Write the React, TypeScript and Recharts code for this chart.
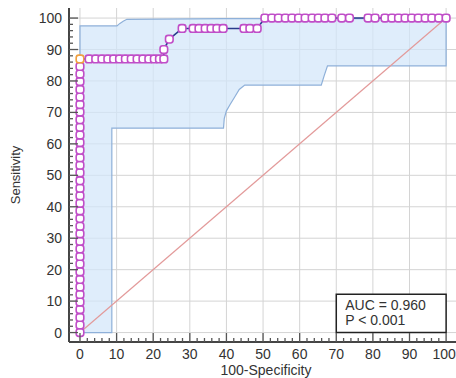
import React from 'react';
import { ComposedChart, Line, Area, XAxis, YAxis, CartesianGrid, ReferenceArea } from 'recharts';

const FONT = '"Liberation Sans", Arial, sans-serif';

const majorTicks = [0, 10, 20, 30, 40, 50, 60, 70, 80, 90, 100];
const minorTicks = Array.from({ length: 51 }, (_, i) => i * 2);

// ROC curve points (100-Specificity, Sensitivity)
const rocFpr = [
  0, 0, 0, 0, 0, 0, 0, 0, 0, 0, 0, 0, 0, 0, 0, 0, 0, 0, 0, 0, 0, 0, 0, 0, 0, 0, 0, 0, 0, 0, 0, 0, 0, 0, 0, 0, 0,
  2.5, 4.3, 6.0, 7.6, 9.2, 10.8, 12.4, 14.0, 15.6, 17.2, 18.8, 20.3, 21.7, 22.9,
  22.9, 24.4,
  27.9, 30.9, 32.5, 34.2, 35.8, 37.4, 39.1, 44.8, 46.4, 48.4,
  50.5, 52.4, 54.2, 56.1, 57.9, 59.7, 61.5, 63.4, 65.1, 66.9, 68.8, 71.5, 73.6, 78.7, 80.6,
  83.3, 85.2, 87.0, 88.8, 90.6, 92.4, 94.3, 96.1, 98.0, 100,
];
const rocSens = [
  0, 2.4, 4.8, 7.3, 9.7, 12.1, 14.5, 16.9, 19.3, 21.8, 24.2, 26.6, 29.0, 31.4, 33.8, 36.3, 38.7, 41.1, 43.5,
  45.9, 48.3, 50.8, 53.2, 55.6, 58.0, 60.4, 62.8, 65.3, 67.7, 70.1, 72.5, 74.9, 77.3, 79.8, 82.2, 84.6, 87.0,
  87.0, 87.0, 87.0, 87.0, 87.0, 87.0, 87.0, 87.0, 87.0, 87.0, 87.0, 87.0, 87.0, 87.0,
  90.0, 93.3,
  96.7, 96.7, 96.7, 96.7, 96.7, 96.7, 96.7, 96.7, 96.7, 96.7,
  100, 100, 100, 100, 100, 100, 100, 100, 100, 100, 100, 100, 100, 100, 100,
  100, 100, 100, 100, 100, 100, 100, 100, 100, 100,
];
const optimalFpr = 0;
const optimalSens = 87.0;

// 95% confidence band
const bandX = [0, 0, 8.7, 8.7, 10.1, 10.9, 11.8, 12.8, 39.2, 39.4, 40.0, 41.0, 42.3, 43.5, 45.0, 65.9, 66.7, 67.6, 100, 100];
const bandLow = [0, 0, 0, 65, 65, 65, 65, 65, 65, 68.0, 70.5, 72.5, 75.0, 77.3, 78.7, 78.7, 81.7, 84.8, 84.8, 99.8];
const bandHigh = [0, 97.5, 97.5, 97.5, 97.5, 98.3, 99.0, 99.6, 99.8, 99.8, 99.8, 99.8, 99.8, 99.8, 99.8, 99.8, 99.8, 99.8, 99.8, 99.8];

// reference diagonal
const diagX = [0, 100];
const diagY = [0, 100];

const aucText = 'AUC = 0.960';
const pText = 'P < 0.001';
const xTitle = '100-Specificity';
const yTitle = 'Sensitivity';

const rocData = rocFpr.map((x, i) => ({ x, y: rocSens[i] }));
const bandData = bandX.map((x, i) => ({ x, low: bandLow[i], high: bandHigh[i] }));
const diagData = diagX.map((x, i) => ({ x, y: diagY[i] }));

const XTick = (p: any) => {
  const { x, y, payload } = p;
  const v = payload.value;
  const major = v % 10 === 0;
  return (
    <g>
      <line x1={x} x2={x} y1={y} y2={y - (major ? 9 : 4)} stroke="#555" strokeWidth={1.3} />
      {major && (
        <text x={x} y={y + 17} dx={v === 100 ? -2 : 0} textAnchor="middle" fontSize={14} fill="#333" fontFamily={FONT}>
          {v}
        </text>
      )}
    </g>
  );
};

const YTick = (p: any) => {
  const { x, y, payload } = p;
  const v = payload.value;
  const major = v % 10 === 0;
  return (
    <g>
      <line x1={x} x2={x + (major ? 9 : 4)} y1={y} y2={y} stroke="#555" strokeWidth={1.3} />
      {major && (
        <text x={x - 7} y={y + 5} textAnchor="end" fontSize={14} fill="#333" fontFamily={FONT}>
          {v}
        </text>
      )}
    </g>
  );
};

const Marker = (p: any) => {
  const { cx, cy, payload } = p;
  if (cx == null || cy == null) return null;
  const opt = payload && payload.x === optimalFpr && payload.y === optimalSens;
  return (
    <rect
      x={cx - 3.8}
      y={cy - 3.8}
      width={7.6}
      height={7.6}
      rx={2.6}
      ry={2.6}
      fill="#ffffff"
      stroke={opt ? '#f0a040' : '#c04ec8'}
      strokeWidth={1.6}
    />
  );
};

const AucLabel = (p: any) => {
  const vb = p.viewBox || { x: 336, y: 295, width: 110, height: 38 };
  return (
    <g>
      <text x={vb.x + 9} y={vb.y + 16} fontSize={14} fill="#333" fontFamily={FONT}>
        {aucText}
      </text>
      <text x={vb.x + 9} y={vb.y + 31} fontSize={14} fill="#333" fontFamily={FONT}>
        {pText}
      </text>
    </g>
  );
};

export default function App() {
  return (
    <div style={{ position: 'absolute', left: 0, top: 0, width: 456, height: 378, overflow: 'hidden', background: '#fff' }}>
      <ComposedChart width={456} height={378} margin={{ top: 8, right: 0, bottom: 0, left: 0 }}>
        <CartesianGrid stroke="#d4d4d4" verticalValues={majorTicks} horizontalValues={majorTicks} />
        <XAxis
          type="number"
          dataKey="x"
          domain={[-3, 102.7]}
          allowDataOverflow
          ticks={minorTicks}
          interval={0}
          tickSize={0}
          tickMargin={0}
          tickLine={false}
          tick={(p: any) => <XTick {...p} />}
          axisLine={{ stroke: '#454545', strokeWidth: 2 }}
          height={36}
          label={{
            content: () => (
              <text x={266} y={374.5} textAnchor="middle" fontSize={14} fill="#333" fontFamily={FONT}>
                {xTitle}
              </text>
            ),
          }}
        />
        <YAxis
          type="number"
          domain={[-3, 103.2]}
          allowDataOverflow
          ticks={minorTicks}
          interval={0}
          tickSize={0}
          tickMargin={0}
          tickLine={false}
          tick={(p: any) => <YTick {...p} />}
          axisLine={{ stroke: '#454545', strokeWidth: 2 }}
          width={69}
          label={{
            content: () => (
              <text
                x={20}
                y={175}
                transform="rotate(-90, 20, 175)"
                textAnchor="middle"
                fontSize={13}
                fill="#333"
                fontFamily={FONT}
              >
                {yTitle}
              </text>
            ),
          }}
        />
        <Area
          data={bandData}
          dataKey={(d: any) => [d.low, d.high]}
          type="linear"
          stroke="#8eb0d9"
          strokeWidth={1.2}
          fill="#d3e6f9"
          fillOpacity={0.72}
          dot={false}
          activeDot={false}
          isAnimationActive={false}
        />
        <Line
          data={diagData}
          dataKey="y"
          type="linear"
          stroke="#e39a9a"
          strokeWidth={1.2}
          dot={false}
          activeDot={false}
          isAnimationActive={false}
        />
        <Line
          data={rocData}
          dataKey="y"
          type="linear"
          stroke="#283c8c"
          strokeWidth={1.6}
          dot={(p: any) => <Marker key={p.index} {...p} />}
          activeDot={false}
          isAnimationActive={false}
        />
        <ReferenceArea
          x1={70}
          x2={100}
          y1={0}
          y2={12.2}
          fill="#ffffff"
          fillOpacity={1}
          stroke="#222"
          strokeWidth={1.5}
          label={(p: any) => <AucLabel {...p} />}
        />
      </ComposedChart>
    </div>
  );
}
